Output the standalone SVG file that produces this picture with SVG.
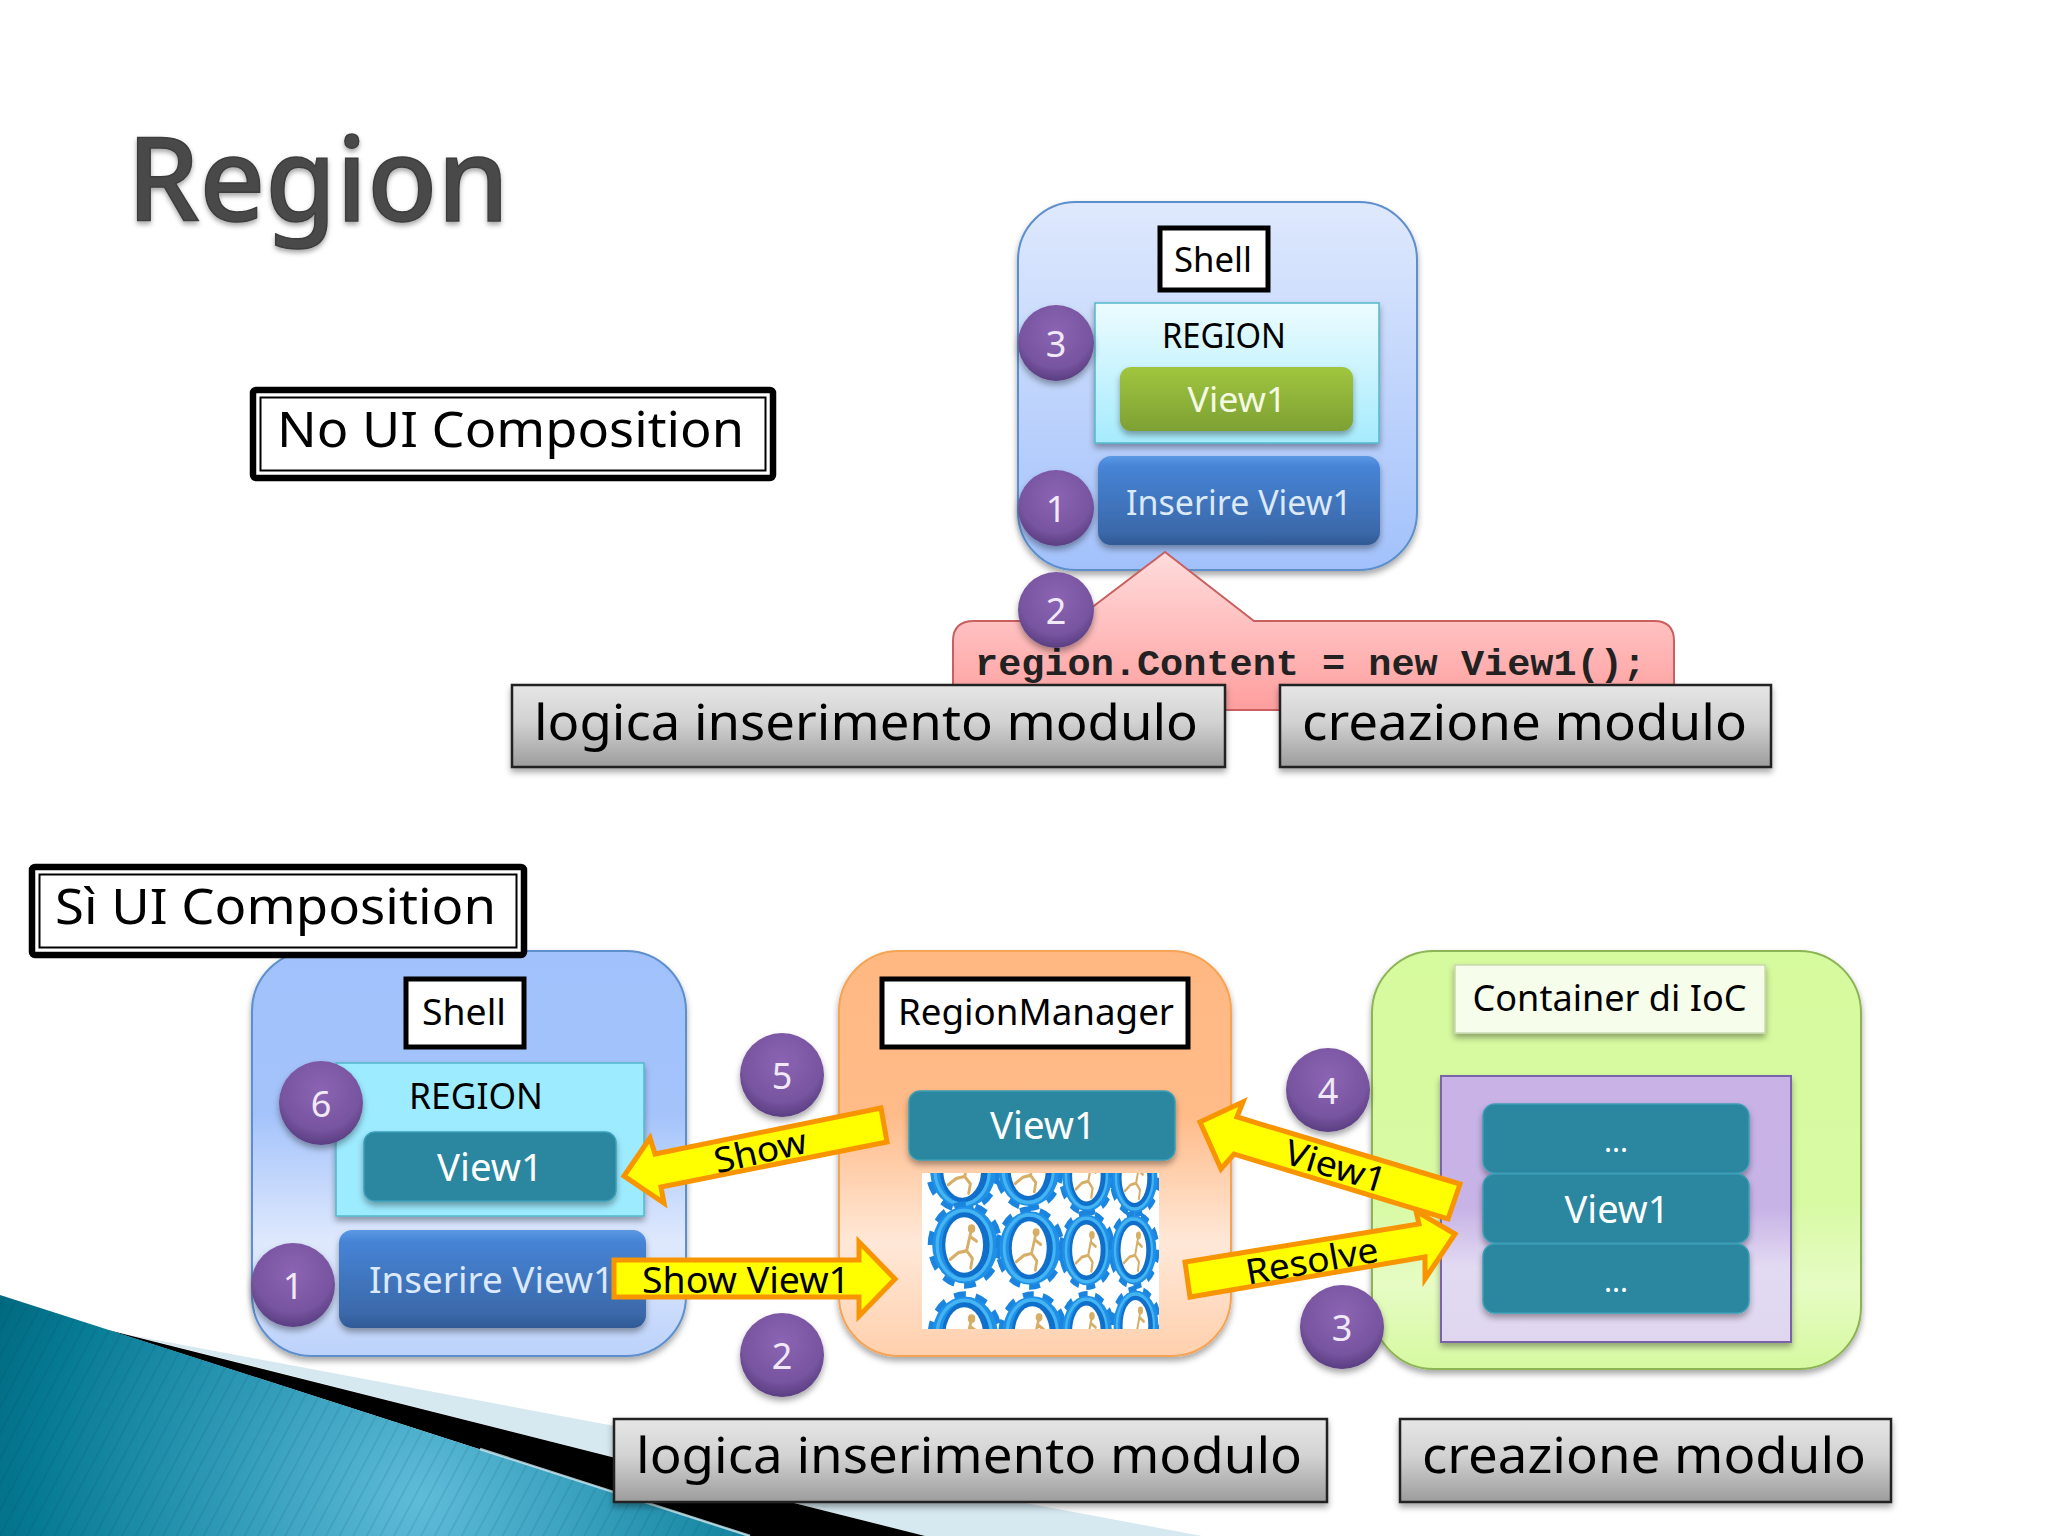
<svg xmlns="http://www.w3.org/2000/svg" xmlns:xlink="http://www.w3.org/1999/xlink" width="2048" height="1536" viewBox="0 0 2048 1536">
<style>
text{font-family:"Noto Sans","Open Sans","Liberation Sans",sans-serif;}
.t{fill:#000;text-anchor:middle;}
.w{fill:#fff;text-anchor:middle;}
.num{fill:#f1e9f8;text-anchor:middle;font-size:36px;}
.panelS{filter:url(#sh);}
.label{fill:#fff;stroke:#000;stroke-width:5;}
.teal{fill:#2a879f;stroke:#3a9db6;stroke-width:1.5;filter:url(#sh);}
.arrow{fill:#ffff00;stroke:#f79400;stroke-width:5;stroke-linejoin:miter;}
.grey{fill:url(#greyG);stroke:#222;stroke-width:2.5;filter:url(#sh);}
.circle{fill:url(#purple);filter:url(#sh);}
.big{font-size:49px;fill:#000;}
.mid{font-size:34px;}
</style>
<defs>
<filter id="sh" x="-10%" y="-10%" width="120%" height="125%"><feDropShadow dx="0" dy="4" stdDeviation="3" flood-color="#000" flood-opacity="0.35"/></filter>
<filter id="tsh" x="-5%" y="-5%" width="110%" height="115%"><feDropShadow dx="0" dy="3" stdDeviation="2.5" flood-color="#000" flood-opacity="0.35"/></filter>
<linearGradient id="greyG" x1="0" y1="0" x2="0" y2="1"><stop offset="0" stop-color="#e6e6e6"/><stop offset="0.45" stop-color="#d2d2d2"/><stop offset="1" stop-color="#9c9c9c"/></linearGradient>
<radialGradient id="purple" cx="0.5" cy="0.35" r="0.72"><stop offset="0" stop-color="#8b64b3"/><stop offset="0.65" stop-color="#7855a0"/><stop offset="1" stop-color="#4f3576"/></radialGradient>
<linearGradient id="topShell" x1="0" y1="0" x2="0" y2="1"><stop offset="0" stop-color="#dfe9fd"/><stop offset="1" stop-color="#a2c1fb"/></linearGradient>
<linearGradient id="topRegion" x1="0" y1="0" x2="0" y2="1"><stop offset="0" stop-color="#ecfcff"/><stop offset="1" stop-color="#a6ebfd"/></linearGradient>
<linearGradient id="green" x1="0" y1="0" x2="0" y2="1"><stop offset="0" stop-color="#a0c63f"/><stop offset="1" stop-color="#7da033"/></linearGradient>
<linearGradient id="blue" x1="0" y1="0" x2="0" y2="1"><stop offset="0" stop-color="#5b98e4"/><stop offset="0.12" stop-color="#4684d6"/><stop offset="0.85" stop-color="#3b69aa"/><stop offset="1" stop-color="#305a95"/></linearGradient>
<linearGradient id="pink" x1="0" y1="0" x2="0" y2="1"><stop offset="0" stop-color="#ffdcdc"/><stop offset="1" stop-color="#ff9e9e"/></linearGradient>
<linearGradient id="botShell" x1="0" y1="0" x2="0" y2="1"><stop offset="0" stop-color="#a0c1fb"/><stop offset="0.4" stop-color="#a4c3fb"/><stop offset="0.72" stop-color="#dfe9fd"/><stop offset="1" stop-color="#bcd2fb"/></linearGradient>
<linearGradient id="orange" x1="0" y1="0" x2="0" y2="1"><stop offset="0" stop-color="#ffb882"/><stop offset="0.4" stop-color="#ffbb88"/><stop offset="0.72" stop-color="#ffe8d8"/><stop offset="1" stop-color="#ffd0ad"/></linearGradient>
<linearGradient id="lime" x1="0" y1="0" x2="0" y2="1"><stop offset="0" stop-color="#d6fa9e"/><stop offset="0.6" stop-color="#d8faa3"/><stop offset="0.8" stop-color="#e6fcc4"/><stop offset="1" stop-color="#d6f9a0"/></linearGradient>
<linearGradient id="lilac" x1="0" y1="0" x2="0" y2="1"><stop offset="0" stop-color="#c8b2e6"/><stop offset="0.5" stop-color="#c8b3e6"/><stop offset="0.72" stop-color="#e2daf2"/><stop offset="1" stop-color="#e0d6f0"/></linearGradient>
<radialGradient id="tealG" gradientUnits="userSpaceOnUse" cx="420" cy="1500" r="480"><stop offset="0" stop-color="#5fbcd9"/><stop offset="0.45" stop-color="#2b97b4"/><stop offset="0.8" stop-color="#067a93"/><stop offset="1" stop-color="#00667d"/></radialGradient>
<pattern id="stripes" width="12" height="12" patternUnits="userSpaceOnUse" patternTransform="rotate(28)"><rect width="1.5" height="12" fill="#003a4a" opacity="0.13"/></pattern>
<clipPath id="imgClip"><rect x="922" y="1173" width="237" height="156"/></clipPath>
<g id="gear">
<circle r="41" fill="none" stroke="#1a84de" stroke-width="9" stroke-dasharray="14 11.7"/>
<circle r="40" fill="#1f90e6"/>
<ellipse cx="2" cy="0" rx="30" ry="35" fill="#0f6fcb"/>
<ellipse cx="-1" cy="0" rx="33" ry="36" fill="none" stroke="#45b4f2" stroke-width="4"/>
<ellipse cx="-1" cy="0" rx="23" ry="29" fill="#fff"/>
<path d="M-18 15L-8 8L2 6L9 14L7 24M2 6L7 -13M6 -9L14 -4" fill="none" stroke="#d6ae66" stroke-width="3.500" stroke-linecap="round" stroke-linejoin="round"/>
<circle cx="8" cy="-17" r="4.500" fill="#d6ae66"/>
</g>
</defs>
<rect width="2048" height="1536" fill="#fff"/>

<g id="background-shape">
<polygon points="130,1335 1202,1536 925,1536" fill="#d6e8f0"/>
<polygon points="108,1330 925,1536 750,1536" fill="#000"/>
<polygon points="0,1295 750,1536 0,1536" fill="url(#tealG)"/>
<polygon points="0,1295 750,1536 0,1536" fill="url(#stripes)"/>
<line x1="480" y1="1449" x2="750" y2="1536" stroke="#cdeaf3" stroke-width="2.5" opacity="0.8"/>
</g>

<text id="title" x="127" y="221" font-size="117" font-weight="500" fill="#4a4a4a" stroke="#3c3c3c" stroke-width="1.500" filter="url(#tsh)" textLength="382" lengthAdjust="spacingAndGlyphs">Region</text>

<g id="no-ui">
<rect x="253" y="390" width="520" height="88" rx="3" fill="#fff" stroke="#000" stroke-width="6.5"/>
<rect x="260.500" y="397.500" width="505" height="73" fill="none" stroke="#000" stroke-width="2"/>
<text x="277" y="447" font-size="49" textLength="467" lengthAdjust="spacingAndGlyphs">No UI Composition</text>
</g>

<g id="top-shell">
<rect class="panelS" x="1018" y="202" width="399" height="368" rx="58" fill="url(#topShell)" stroke="#5d8fcc" stroke-width="2"/>
<rect class="label" x="1160" y="228" width="108" height="62"/>
<text class="t mid" x="1213" y="272" textLength="78" lengthAdjust="spacingAndGlyphs">Shell</text>
</g>
<g id="top-region">
<rect class="panelS" x="1095" y="303" width="284" height="140" fill="url(#topRegion)" stroke="#52b8ca" stroke-width="1.500"/>
<text class="t mid" x="1224" y="348" textLength="124" lengthAdjust="spacingAndGlyphs">REGION</text>
</g>
<g id="top-view1">
<rect class="panelS" x="1120" y="367" width="233" height="64" rx="11" fill="url(#green)"/>
<text class="mid" x="1237" y="412" fill="#f4f9e4" text-anchor="middle" textLength="99" lengthAdjust="spacingAndGlyphs">View1</text>
</g>
<g id="top-inserire">
<rect class="panelS" x="1098" y="456" width="282" height="89" rx="13" fill="url(#blue)"/>
<text class="mid" x="1239" y="515" fill="#dbe9f9" text-anchor="middle" textLength="226" lengthAdjust="spacingAndGlyphs">Inserire View1</text>
</g>
<g id="top-code">
<path d="M974 621L1074 621L1165 552L1254 621L1654 621Q1674 621 1674 641L1674 710L953 710L953 641Q953 621 974 621Z" fill="url(#pink)" stroke="#c9605f" stroke-width="2"/>
<text x="975" y="675" font-size="37" font-weight="700" fill="#222" textLength="671" lengthAdjust="spacingAndGlyphs" style="font-family:'Liberation Mono',monospace">region.Content = new View1();</text>
</g>
<g id="top-logica">
<rect class="grey" x="512" y="685" width="713" height="82"/>
<text class="big" x="534" y="740" textLength="664" lengthAdjust="spacingAndGlyphs">logica inserimento modulo</text>
</g>
<g id="top-creazione">
<rect class="grey" x="1280" y="685" width="491" height="82"/>
<text class="big" x="1302" y="740" textLength="445" lengthAdjust="spacingAndGlyphs">creazione modulo</text>
</g>

<g id="bot-shell">
<rect class="panelS" x="252" y="951" width="434" height="405" rx="60" fill="url(#botShell)" stroke="#5d8fcc" stroke-width="2"/>
<rect class="label" x="406" y="979" width="118" height="68"/>
<text class="t" x="464" y="1025" font-size="36" textLength="84" lengthAdjust="spacingAndGlyphs">Shell</text>
</g>
<g id="bot-region">
<rect class="panelS" x="336" y="1063" width="308" height="153" fill="#9debff" stroke="#52b8ca" stroke-width="1.500"/>
<text class="t" x="476" y="1109" font-size="36" textLength="134" lengthAdjust="spacingAndGlyphs">REGION</text>
</g>
<g id="bot-view1">
<rect class="teal" x="364" y="1132" width="252" height="69" rx="11"/>
<text class="w" x="490" y="1181" font-size="38" textLength="106" lengthAdjust="spacingAndGlyphs">View1</text>
</g>
<g id="bot-inserire">
<rect class="panelS" x="339" y="1230" width="307" height="98" rx="13" fill="url(#blue)"/>
<text x="369" y="1293" font-size="37" fill="#dbe9f9" textLength="245" lengthAdjust="spacingAndGlyphs">Inserire View1</text>
</g>

<g id="si-ui">
<rect x="32" y="867" width="492" height="88" rx="3" fill="#fff" stroke="#000" stroke-width="6.500"/>
<rect x="39.500" y="874.500" width="477" height="73" fill="none" stroke="#000" stroke-width="2"/>
<text x="55" y="924" font-size="49" textLength="441" lengthAdjust="spacingAndGlyphs">Sì UI Composition</text>
</g>

<g id="region-manager">
<rect class="panelS" x="839" y="951" width="392" height="405" rx="60" fill="url(#orange)" stroke="#f5a455" stroke-width="2"/>
<rect class="label" x="882" y="979" width="306" height="68"/>
<text class="t" x="1036" y="1025" font-size="36" textLength="276" lengthAdjust="spacingAndGlyphs">RegionManager</text>
</g>
<g id="manager-view1">
<rect class="teal" x="909" y="1091" width="266" height="69" rx="11"/>
<text class="w" x="1043" y="1139" font-size="38" textLength="106" lengthAdjust="spacingAndGlyphs">View1</text>
</g>
<g id="gears" clip-path="url(#imgClip)">
<rect x="922" y="1173" width="237" height="156" fill="#fff"/>
<use xlink:href="#gear" href="#gear" transform="translate(963 1171) scale(.82 .92)"/>
<use xlink:href="#gear" href="#gear" transform="translate(1029 1170) scale(.76 .9)"/>
<use xlink:href="#gear" href="#gear" transform="translate(1087 1176) scale(.62 .88)"/>
<use xlink:href="#gear" href="#gear" transform="translate(1135 1178) scale(.56 .86)"/>
<use xlink:href="#gear" href="#gear" transform="translate(965 1245) scale(.82 .96)"/>
<use xlink:href="#gear" href="#gear" transform="translate(1030 1248) scale(.76 .92)"/>
<use xlink:href="#gear" href="#gear" transform="translate(1087 1250) scale(.62 .88)"/>
<use xlink:href="#gear" href="#gear" transform="translate(1134 1250) scale(.56 .86)"/>
<use xlink:href="#gear" href="#gear" transform="translate(965 1335) scale(.82 .96)"/>
<use xlink:href="#gear" href="#gear" transform="translate(1033 1333) scale(.76 .92)"/>
<use xlink:href="#gear" href="#gear" transform="translate(1087 1331) scale(.62 .88)"/>
<use xlink:href="#gear" href="#gear" transform="translate(1136 1325) scale(.56 .86)"/>
</g>

<g id="container">
<rect class="panelS" x="1372" y="951" width="489" height="418" rx="62" fill="url(#lime)" stroke="#8cb455" stroke-width="2"/>
<rect class="panelS" x="1455" y="965" width="310" height="68" fill="#f6fdea" stroke="#c8d8b0" stroke-width="1.500"/>
<text class="t" x="1609.500" y="1011" font-size="37" textLength="274" lengthAdjust="spacingAndGlyphs">Container di IoC</text>
</g>
<g id="view-store">
<rect class="panelS" x="1441" y="1076" width="350" height="266" fill="url(#lilac)" stroke="#7a63a8" stroke-width="2"/>
</g>
<g id="item-a">
<rect class="teal" x="1483" y="1104" width="266" height="69" rx="12"/>
<text class="w" x="1616" y="1152" font-size="30">...</text>
</g>
<g id="item-b">
<rect class="teal" x="1483" y="1174" width="266" height="69" rx="12"/>
<text class="w" x="1617" y="1223" font-size="38" textLength="105" lengthAdjust="spacingAndGlyphs">View1</text>
</g>
<g id="item-c">
<rect class="teal" x="1483" y="1244" width="266" height="69" rx="12"/>
<text class="w" x="1616" y="1292" font-size="30">...</text>
</g>

<g id="connectors">
<g>
<polygon class="arrow" points="624,1176 650,1138 655,1154 881,1108 887,1142 661,1187 664,1203"/>
<text class="t" font-size="35" transform="translate(763 1163) rotate(-13)" textLength="94" lengthAdjust="spacingAndGlyphs">Show</text>
</g>
<g>
<polygon class="arrow" points="614,1260 859,1260 859,1242 895,1279 859,1316 859,1297 614,1297"/>
<text x="642" y="1293" font-size="36" fill="#000" textLength="208" lengthAdjust="spacingAndGlyphs">Show View1</text>
</g>
<g>
<polygon class="arrow" points="1455,1234 1416,1211 1419,1224 1185,1262 1190,1297 1425,1257 1425,1279"/>
<text class="t" font-size="35" transform="translate(1314 1273) rotate(-10)" textLength="134" lengthAdjust="spacingAndGlyphs">Resolve</text>
</g>
<g>
<polygon class="arrow" points="1200,1122 1243,1102 1237,1117 1460,1184 1448,1219 1234,1154 1221,1169"/>
<text class="t" font-size="35" transform="translate(1332 1178) rotate(17)" textLength="104" lengthAdjust="spacingAndGlyphs">View1</text>
</g>
</g>

<g id="bot-logica">
<rect class="grey" x="614" y="1419" width="713" height="83"/>
<text class="big" x="636" y="1473" textLength="666" lengthAdjust="spacingAndGlyphs">logica inserimento modulo</text>
</g>
<g id="bot-creazione">
<rect class="grey" x="1400" y="1419" width="491" height="83"/>
<text class="big" x="1422" y="1473" textLength="444" lengthAdjust="spacingAndGlyphs">creazione modulo</text>
</g>

<g id="num-top-3"><circle class="circle" cx="1056" cy="343" r="38"/><text class="num" x="1056" y="357">3</text></g>
<g id="num-top-1"><circle class="circle" cx="1056" cy="508" r="38"/><text class="num" x="1056" y="522">1</text></g>
<g id="num-top-2"><circle class="circle" cx="1056" cy="610" r="38"/><text class="num" x="1056" y="624">2</text></g>
<g id="num-bot-6"><circle class="circle" cx="321" cy="1103" r="42"/><text class="num" x="321" y="1117">6</text></g>
<g id="num-bot-1"><circle class="circle" cx="293" cy="1285" r="42"/><text class="num" x="293" y="1299">1</text></g>
<g id="num-bot-5"><circle class="circle" cx="782" cy="1075" r="42"/><text class="num" x="782" y="1089">5</text></g>
<g id="num-bot-2"><circle class="circle" cx="782" cy="1355" r="42"/><text class="num" x="782" y="1369">2</text></g>
<g id="num-bot-4"><circle class="circle" cx="1328" cy="1090" r="42"/><text class="num" x="1328" y="1104">4</text></g>
<g id="num-bot-3"><circle class="circle" cx="1342" cy="1327" r="42"/><text class="num" x="1342" y="1341">3</text></g>
</svg>
